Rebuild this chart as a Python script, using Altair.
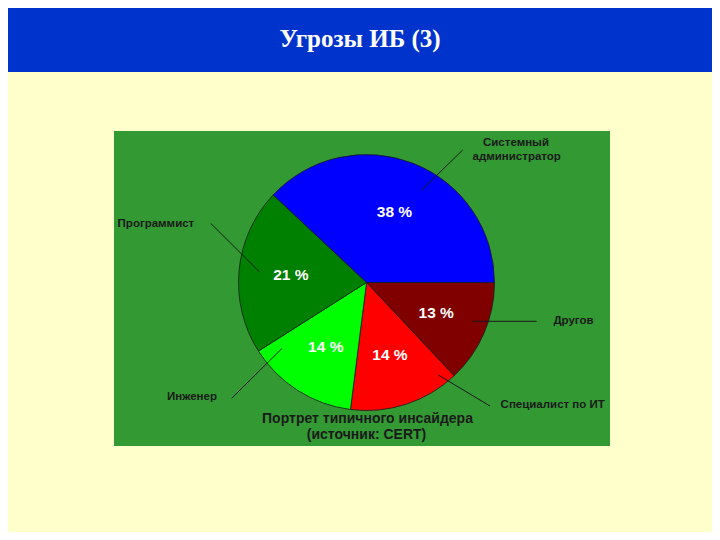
import math
import altair as alt
import pandas as pd

# ---- data ----
categories = ["Другов", "Специалист по ИТ", "Инженер", "Программист", "Системный администратор"]
shares = [13, 14, 14, 21, 38]
slice_colors = ["#800000", "#FF0000", "#00FF00", "#008000", "#0000FF"]
pct_labels = ["13 %", "14 %", "14 %", "21 %", "38 %"]

# outer labels (offsets from pie centre, px, y up)
lab_text = ["Системный", "администратор", "Программист", "Другов", "Специалист по ИТ", "Инженер"]
lab_x = [149.5, 150.2, -210.6, 207.0, 186.2, -174.5]
lab_y = [139.8, 125.8, 58.5, -38.8, -122.5, -114.8]

# leader lines
lead_x1 = [55.2, -155.8, 105.8, 71.8, -84.8]
lead_y1 = [92.5, 59.2, -38.8, -92.5, -66.2]
lead_x2 = [96.2, -107.2, 170.2, 123.5, -134.8]
lead_y2 = [132.5, 10.8, -38.8, -123.5, -115.8]

sub_text = ["Портрет типичного инсайдера", "(источник: CERT)"]
sub_x = [1.0, 0.0]
sub_y = [-136.8, -152.5]

title_text = ["Угрозы ИБ (3)"]

W, H = 505, 303
FONT = "Liberation Sans, Arial, sans-serif"

pie_df = pd.DataFrame({"cat": categories, "share": shares, "pct": pct_labels,
                       "idx": list(range(len(categories)))})
lab_df = pd.DataFrame({"t": lab_text, "x": lab_x, "y": lab_y})
lead_df = pd.DataFrame({"x1": lead_x1, "y1": lead_y1, "x2": lead_x2, "y2": lead_y2})
sub_df = pd.DataFrame({"t": sub_text, "x": sub_x, "y": sub_y})
title_df = pd.DataFrame({"t": title_text})
one = pd.DataFrame({"a": [0]})

xs = alt.Scale(domain=[-W / 2, W / 2], range=[0, W], nice=False, zero=False)
ys = alt.Scale(domain=[-H / 2, H / 2], range=[H, 0], nice=False, zero=False)

banner = alt.Chart(one).mark_rect(color="#0033CC").encode(
    x=alt.value(-114), x2=alt.value(620), y=alt.value(-140), y2=alt.value(-59))

panel = alt.Chart(one).mark_rect(color="#339933").encode(
    x=alt.value(0), x2=alt.value(496), y=alt.value(0), y2=alt.value(315))

title = alt.Chart(title_df).mark_text(
    font="Liberation Serif, Times New Roman, serif", fontSize=25, fontWeight="bold",
    color="#FFFFFF", align="center", baseline="alphabetic").encode(
    text="t:N", x=alt.value(246), y=alt.value(-84.3))

theta = alt.Theta("share:Q", stack=True,
                  scale=alt.Scale(range=[math.pi / 2, math.pi / 2 + 2 * math.pi]))
color = alt.Color("cat:N", scale=alt.Scale(domain=categories, range=slice_colors), legend=None)
order = alt.Order("idx:Q")

pie = alt.Chart(pie_df).mark_arc(outerRadius=128, stroke="#1a1a1a", strokeWidth=0.8).encode(
    theta=theta, color=color, order=order)

pct = alt.Chart(pie_df).mark_text(radius=76, font=FONT, fontSize=15.5, fontWeight="bold",
                                  color="#FFFFFF", align="center", baseline="middle").encode(
    theta=theta, order=order, text="pct:N")

leads = alt.Chart(lead_df).mark_rule(color="#1a1a1a", strokeWidth=1).encode(
    x=alt.X("x1:Q", scale=xs, axis=None), y=alt.Y("y1:Q", scale=ys, axis=None),
    x2="x2:Q", y2="y2:Q")

labels = alt.Chart(lab_df).mark_text(font=FONT, fontSize=11.5, fontWeight="bold",
                                     color="#1a1a1a", align="center", baseline="middle").encode(
    x=alt.X("x:Q", scale=xs, axis=None), y=alt.Y("y:Q", scale=ys, axis=None), text="t:N")

sub = alt.Chart(sub_df).mark_text(font=FONT, fontSize=14, fontWeight="bold",
                                  color="#1a1a1a", align="center", baseline="middle").encode(
    x=alt.X("x:Q", scale=xs, axis=None), y=alt.Y("y:Q", scale=ys, axis=None), text="t:N")

chart = alt.layer(banner, panel, title, pie, pct, leads, labels, sub).properties(
    width=W, height=H,
    background="#FFFFCC",
    padding={"left": 106, "top": 123, "right": 93, "bottom": 98},
    autosize=alt.AutoSizeParams(type="none"),
).configure_view(stroke=None)

chart.save("out.html", embed_options={"renderer": "svg", "actions": False})
